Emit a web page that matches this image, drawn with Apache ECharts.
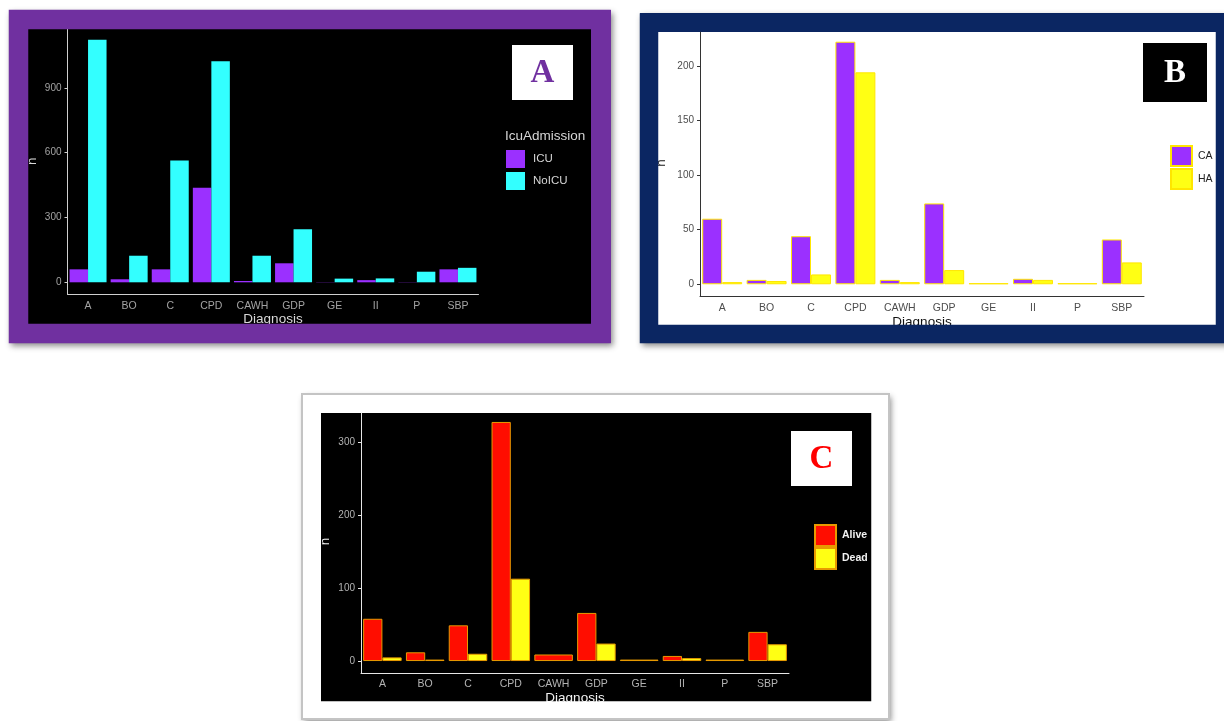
<!DOCTYPE html>
<html>
<head>
<meta charset="utf-8">
<script src="https://cdn.jsdelivr.net/npm/echarts@6/dist/echarts.min.js"></script>
<style>
html, body { margin: 0; padding: 0; background: #fff; }
#chart { width: 1224px; height: 721px; }
</style>
</head>
<body>
<div id="chart"></div>
<script>
var diagnosis = ['A', 'BO', 'C', 'CPD', 'CAWH', 'GDP', 'GE', 'II', 'P', 'SBP'];

// panel A - icu admission
var icu   = [60, 14, 60, 438, 6, 88, 1, 10, 1, 60];
var noIcu = [1123, 123, 564, 1023, 123, 245, 17, 18, 49, 67];
var ticksA = [0, 300, 600, 900];

// panel B - null means the group has only the other bar (drawn full width)
var ca = [60, 4, 44, 222, 4, 74, null, 5, null, 41];
var ha = [2, 3, 9, 194, 2, 13, 1, 4, 1, 20];
var ticksB = [0, 50, 100, 150, 200];

// panel C - outcome
var alive = [58, 12, 49, 328, 9, 66, null, 7, null, 40];
var dead  = [5, 2, 10, 113, null, 24, 2, 4, 2, 23];
var ticksC = [0, 100, 200, 300];

var font = '"Liberation Sans", Arial, sans-serif';

var panels = [
    {
        names: ['ICU', 'NoICU'], a: icu, b: noIcu, ticks: ticksA,
        colors: ['#9B30FF', '#33FFFF'], border: null,
        grid: { left: 67.5, top: 28, width: 411, height: 266.4 }, min: -56, max: 1177,
        axisColor: '#cfcfcf', labelColor: '#a3a3a3', nameColor: '#d9d9d9', gapY: 28, gapX: 17
    },
    {
        names: ['CA', 'HA'], a: ca, b: ha, ticks: ticksB,
        colors: ['#9B30FF', '#FFFF14'], border: '#FFE600',
        grid: { left: 700, top: 29.6, width: 444, height: 266.8 }, min: -11.1, max: 233.1,
        axisColor: '#333333', labelColor: '#4d4d4d', nameColor: '#111111', gapY: 32, gapX: 18.5
    },
    {
        names: ['Alive', 'Dead'], a: alive, b: dead, ticks: ticksC,
        colors: ['#FF0D00', '#FFFF14'], border: '#E89A00',
        grid: { left: 361, top: 410, width: 428, height: 263 }, min: -16.4, max: 344.4,
        axisColor: '#e6e6e6', labelColor: '#b3b3b3', nameColor: '#f2f2f2', gapY: 29, gapX: 18
    }
];

// split into side-by-side bars and single full-width bars (ggplot dodge)
function dodge(p) {
    var da = [], db = [], solo = [];
    for (var i = 0; i < p.a.length; i++) {
        if (p.a[i] != null && p.b[i] != null) {
            da.push(p.a[i]); db.push(p.b[i]); solo.push('-');
        } else {
            da.push('-'); db.push('-');
            if (p.a[i] != null) solo.push({ value: p.a[i], itemStyle: { color: p.colors[0] } });
            else if (p.b[i] != null) solo.push({ value: p.b[i], itemStyle: { color: p.colors[1] } });
            else solo.push('-');
        }
    }
    return { a: da, b: db, solo: solo };
}

var grids = [], xAxes = [], yAxes = [], series = [];
panels.forEach(function (p, i) {
    grids.push(Object.assign({ containLabel: false, outerBoundsMode: 'none' }, p.grid));
    xAxes.push({
        type: 'category', gridIndex: i, data: diagnosis,
        name: 'Diagnosis', nameLocation: 'middle', nameGap: p.gapX,
        nameTextStyle: { color: p.nameColor, fontSize: 13.5, fontFamily: font },
        axisLine: { onZero: false, lineStyle: { color: p.axisColor, width: 1 } },
        axisTick: { alignWithLabel: true, length: 3, lineStyle: { color: p.axisColor } },
        axisLabel: { color: p.labelColor, fontSize: 10.5, margin: 6, fontFamily: font, interval: 0 },
        splitLine: { show: false }
    });
    xAxes.push({ type: 'category', gridIndex: i, data: diagnosis, show: false });
    yAxes.push({
        type: 'value', gridIndex: i, min: p.min, max: p.max,
        name: 'n', nameLocation: 'middle', nameGap: p.gapY,
        nameTextStyle: { color: p.nameColor, fontSize: 13.5, fontFamily: font },
        axisLine: { show: true, lineStyle: { color: p.axisColor, width: 1 } },
        axisTick: { show: true, length: 3, customValues: p.ticks, lineStyle: { color: p.axisColor } },
        axisLabel: { color: p.labelColor, fontSize: 10, margin: 6, fontFamily: font, customValues: p.ticks },
        splitLine: { show: false }
    });
    var d = dodge(p);
    var st = p.border ? { borderColor: p.border, borderWidth: 1 } : {};
    series.push({
        name: p.names[0], type: 'bar', xAxisIndex: 2 * i, yAxisIndex: i, data: d.a,
        barGap: '0%', barCategoryGap: '10%',
        itemStyle: Object.assign({ color: p.colors[0] }, st)
    });
    series.push({
        name: p.names[1], type: 'bar', xAxisIndex: 2 * i, yAxisIndex: i, data: d.b,
        barGap: '0%', barCategoryGap: '10%',
        itemStyle: Object.assign({ color: p.colors[1] }, st)
    });
    series.push({
        name: 'single' + i, type: 'bar', xAxisIndex: 2 * i + 1, yAxisIndex: i, data: d.solo,
        barCategoryGap: '10%', itemStyle: Object.assign({}, st)
    });
});

function frame(x0, y0, x1, y1, ix0, iy0, ix1, iy1, color, inner, bw) {
    return [
        { type: 'rect', z: -10, shape: { x: x0, y: y0, width: x1 - x0, height: y1 - y0 },
          style: { fill: color, shadowBlur: 6, shadowOffsetX: 2, shadowOffsetY: 3, shadowColor: 'rgba(0,0,0,0.45)' } },
        { type: 'rect', z: -5, shape: { x: ix0, y: iy0, width: ix1 - ix0, height: iy1 - iy0 },
          style: { fill: inner } },
        { type: 'rect', z: 50, silent: true,
          shape: { x: (x0 + ix0) / 2, y: (y0 + iy0) / 2, width: (x1 + ix1) / 2 - (x0 + ix0) / 2, height: (y1 + iy1) / 2 - (y0 + iy0) / 2 },
          style: { fill: 'none', stroke: color, lineWidth: bw } }
    ];
}

function letterBox(x, y, w, h, bg, letter, fg) {
    return [
        { type: 'rect', z: 60, shape: { x: x, y: y, width: w, height: h }, style: { fill: bg } },
        { type: 'text', z: 61, x: x + w / 2, y: y + h / 2 + 1,
          style: { text: letter, fill: fg, font: 'bold 33px "Liberation Serif", "DejaVu Serif", serif',
                   align: 'center', verticalAlign: 'middle', textAlign: 'center', textVerticalAlign: 'middle' } }
    ];
}

var graphics = []
    .concat(frame(9, 10, 611, 343, 28, 29, 591, 324, '#7030A0', '#000000', 19.5))
    .concat(frame(640, 13, 1234, 343, 658, 32, 1216, 325, '#0B2662', '#ffffff', 18.5))
    .concat(frame(302, 394, 889, 719, 321, 413, 872, 702, '#ffffff', '#000000', 18.5))
    .concat([
        { type: 'rect', z: 51, silent: true, shape: { x: 302, y: 394, width: 587, height: 325 },
          style: { fill: 'none', stroke: '#c4c4c4', lineWidth: 2 } },
        { type: 'text', z: 40, x: 505, y: 136,
          style: { text: 'IcuAdmission', fill: '#d6d6d6', font: '13.5px ' + font,
                   align: 'left', verticalAlign: 'middle', textAlign: 'left', textVerticalAlign: 'middle' } }
    ])
    .concat(letterBox(512, 45, 61, 55, '#ffffff', 'A', '#7030A0'))
    .concat(letterBox(1143, 43, 64, 59, '#000000', 'B', '#ffffff'))
    .concat(letterBox(791, 431, 61, 55, '#ffffff', 'C', '#FF0000'));

var option = {
    animation: false,
    backgroundColor: '#ffffff',
    textStyle: { fontFamily: font },
    grid: grids,
    xAxis: xAxes,
    yAxis: yAxes,
    legend: [
        { data: ['ICU', 'NoICU'], orient: 'vertical', left: 506, top: 150, icon: 'rect', padding: 0,
          itemWidth: 19, itemHeight: 18, itemGap: 4, selectedMode: false,
          textStyle: { color: '#d6d6d6', fontSize: 11.5, padding: [0, 0, 0, 3] } },
        { data: ['CA', 'HA'], orient: 'vertical', left: 1170, top: 145, icon: 'rect', padding: 0,
          itemWidth: 21, itemHeight: 20, itemGap: 1, selectedMode: false,
          textStyle: { color: '#222222', fontSize: 10.5, padding: [0, 0, 0, 1] } },
        { data: ['Alive', 'Dead'], orient: 'vertical', left: 814, top: 524, icon: 'rect', padding: 0,
          itemWidth: 21, itemHeight: 21, itemGap: 0, selectedMode: false,
          textStyle: { color: '#f2f2f2', fontSize: 10.5, fontWeight: 'bold', padding: [0, 0, 0, 1] } }
    ],
    graphic: graphics,
    series: series
};

var chart = echarts.init(document.getElementById('chart'));
chart.setOption(option);
</script>
</body>
</html>
